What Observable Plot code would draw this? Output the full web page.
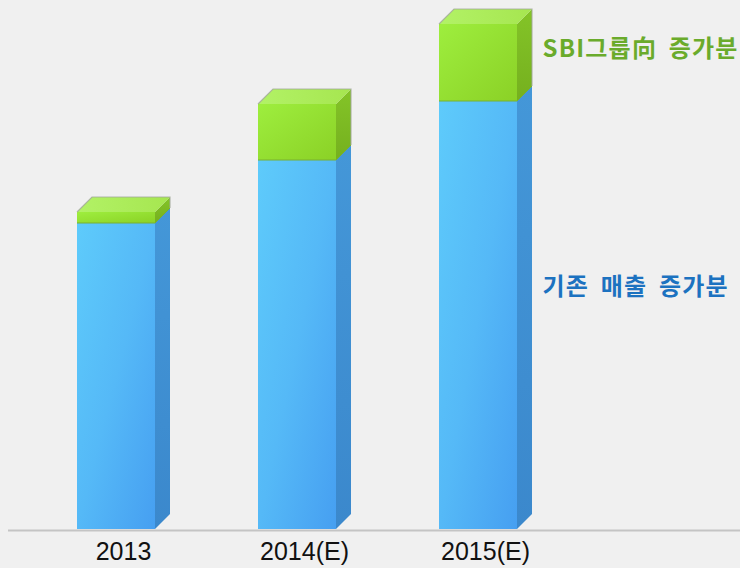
<!DOCTYPE html>
<html><head><meta charset="utf-8">
<script src="https://cdn.jsdelivr.net/npm/d3@7"></script>
<script src="https://cdn.jsdelivr.net/npm/@observablehq/plot@0.6"></script>
<style>
html,body{margin:0;padding:0;background:#f0f0f0;overflow:hidden;}
#chart g[font-family*="Noto"] text{letter-spacing:1.2px;word-spacing:5px;}
</style>
</head><body><div id="chart"></div>
<script>
// ---- data ----
const years = ["2013", "2014(E)", "2015(E)"];
const baseSales = [306, 369, 428];   // 기존 매출 증가분
const sbiSales = [11, 56, 77];       // SBI그룹向 증가분
const labelTexts = ["SBI그룹向 증가분", "기존 매출 증가분"];
const labelY = [480, 242];
const labelColors = ["#6aab2b", "#1c72c0"];

const rows = years.map((yr, i) => ({year: yr, base: baseSales[i], sbi: sbiSales[i], total: baseSales[i] + sbiSales[i]}));
const labels = labelTexts.map((t, i) => ({text: t, y: labelY[i], color: labelColors[i]}));

const DX = 15, DY = 15;
const NS = "http://www.w3.org/2000/svg";
function el(tag, attrs) {
  const e = document.createElementNS(NS, tag);
  for (const k in attrs) e.setAttribute(k, attrs[k]);
  return e;
}
function grad(id, x2, y2, stops) {
  const g = el("linearGradient", {id, x1: 0, y1: 0, x2, y2});
  stops.forEach(([o, c]) => g.appendChild(el("stop", {offset: o, "stop-color": c})));
  return g;
}
function faces(kind) {
  return function(index, scales, values, dims, ctx, next) {
    const g = next(index, scales, values, dims, ctx);
    if (kind === "base") {
      const defs = el("defs", {});
      defs.appendChild(grad("blueFront", 1, 1, [[0, "#5ecbfb"], [0.5, "#55b9f7"], [1, "#469ff1"]]));
      defs.appendChild(grad("blueSide", 0, 1, [[0, "#4497d8"], [1, "#3b88cc"]]));
      defs.appendChild(grad("greenFront", 1, 1, [[0, "#9eee3e"], [1, "#8bd126"]]));
      defs.appendChild(grad("greenSide", 0, 1, [[0, "#84c428"], [1, "#75b01e"]]));
      defs.appendChild(grad("greenTop", 1, 0, [[0, "#b2f266"], [1, "#a6e650"]]));
      g.insertBefore(defs, g.firstChild);
    }
    g.querySelectorAll("rect").forEach(r => {
      const x = +r.getAttribute("x"), y = +r.getAttribute("y");
      const w = +r.getAttribute("width"), h = +r.getAttribute("height");
      const xr = x + w;
      const side = [[xr, y], [xr + DX, y - DY], [xr + DX, y + h - DY], [xr, y + h]];
      g.appendChild(el("polygon", {points: side.map(p => p.join(",")).join(" "),
        fill: kind === "base" ? "url(#blueSide)" : "url(#greenSide)"}));
      if (kind === "sbi") {
        const top = [[x, y], [x + DX, y - DY], [xr + DX, y - DY], [xr, y]];
        g.appendChild(el("polygon", {points: top.map(p => p.join(",")).join(" "), fill: "url(#greenTop)"}));
        g.appendChild(el("polyline", {points: `${x},${y} ${x + DX},${y - DY} ${xr + DX},${y - DY} ${xr + DX},${y + h - DY}`,
          fill: "none", stroke: "#a0a898", "stroke-width": 1.2, "stroke-opacity": 0.8}));
        g.appendChild(el("polyline", {points: `${x},${y + h} ${xr},${y + h} ${xr + DX},${y + h - DY}`,
          fill: "none", stroke: "#78b030", "stroke-width": 1}));
      }
    });
    return g;
  };
}

const chart = Plot.plot({
  width: 740,
  height: 568,
  marginTop: 0,
  marginBottom: 39,
  marginLeft: 8,
  marginRight: 0,
  style: {background: "#f0f0f0", fontFamily: "'Liberation Sans', Arial, sans-serif", overflow: "visible"},
  x: {domain: years, range: [76, 518], paddingInner: 0.5714, paddingOuter: 0, align: 0.5, label: null},
  y: {domain: [0, 529], axis: null},
  marks: [
    Plot.ruleY([0], {stroke: "#c4c4c4", strokeWidth: 2, dy: 1}),
    Plot.rectY(rows, {x: "year", y1: 0, y2: "base", fill: "url(#blueFront)", render: faces("base")}),
    Plot.rectY(rows, {x: "year", y1: "base", y2: "total", fill: "url(#greenFront)", render: faces("sbi")}),
    Plot.axisX({tickSize: 0, tickPadding: 13, fontSize: 25, fill: "#111", dx: 7, label: null}),
    Plot.text(labels, {x: () => years[2], y: "y", text: "text", fill: "color", dx: 64,
      textAnchor: "start", lineAnchor: "middle", fontSize: 24, fontWeight: "bold",
      fontFamily: "'Noto Sans CJK KR', sans-serif"})
  ]
});
document.getElementById("chart").appendChild(chart);
</script>
</body></html>
